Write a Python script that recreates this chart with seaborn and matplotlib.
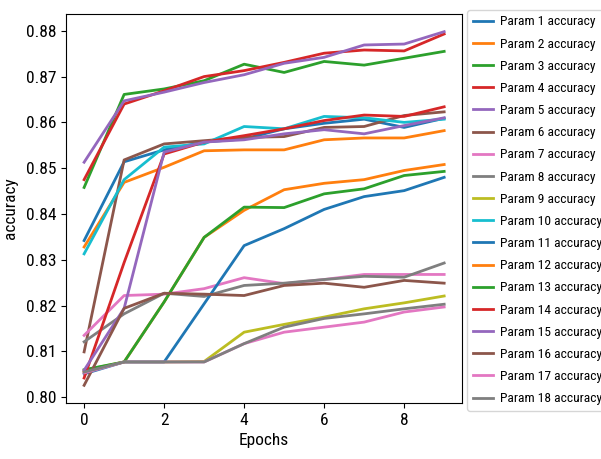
import matplotlib
matplotlib.use('Agg')
import matplotlib.pyplot as plt
from matplotlib import font_manager
import numpy as np
import pandas as pd
import seaborn as sns

epochs = list(range(10))

param1 = [0.8342, 0.8514, 0.8540, 0.8557, 0.8564, 0.8586, 0.8598, 0.8607, 0.8589, 0.8609]
param2 = [0.8328, 0.8469, 0.8502, 0.8538, 0.8540, 0.8540, 0.8562, 0.8566, 0.8566, 0.8582]
param3 = [0.8458, 0.8661, 0.8673, 0.8691, 0.8727, 0.8709, 0.8733, 0.8725, 0.8740, 0.8755]
param4 = [0.8475, 0.8640, 0.8669, 0.8700, 0.8713, 0.8731, 0.8751, 0.8758, 0.8756, 0.8793]
param5 = [0.8513, 0.8647, 0.8666, 0.8687, 0.8704, 0.8729, 0.8742, 0.8769, 0.8771, 0.8798]
param6 = [0.8099, 0.8518, 0.8553, 0.8560, 0.8567, 0.8569, 0.8589, 0.8591, 0.8615, 0.8623]
param7 = [0.8135, 0.8222, 0.8225, 0.8237, 0.8261, 0.8248, 0.8257, 0.8268, 0.8268, 0.8268]
param8 = [0.8121, 0.8182, 0.8227, 0.8220, 0.8244, 0.8249, 0.8257, 0.8264, 0.8262, 0.8293]
param9 = [0.8059, 0.8077, 0.8077, 0.8078, 0.8142, 0.8159, 0.8175, 0.8193, 0.8206, 0.8221]
param10 = [0.8313, 0.8475, 0.8546, 0.8553, 0.8591, 0.8586, 0.8613, 0.8610, 0.8600, 0.8607]
param11 = [0.8051, 0.8077, 0.8077, 0.8204, 0.8331, 0.8368, 0.8410, 0.8438, 0.8451, 0.8480]
param12 = [0.8055, 0.8077, 0.8208, 0.8349, 0.8408, 0.8453, 0.8467, 0.8475, 0.8495, 0.8508]
param13 = [0.8060, 0.8077, 0.8208, 0.8349, 0.8415, 0.8414, 0.8444, 0.8455, 0.8484, 0.8493]
param14 = [0.8042, 0.8294, 0.8531, 0.8557, 0.8571, 0.8586, 0.8604, 0.8616, 0.8613, 0.8634]
param15 = [0.8059, 0.8194, 0.8535, 0.8557, 0.8562, 0.8575, 0.8584, 0.8575, 0.8593, 0.8610]
param16 = [0.8026, 0.8194, 0.8227, 0.8225, 0.8222, 0.8244, 0.8249, 0.8240, 0.8255, 0.8249]
param17 = [0.8053, 0.8077, 0.8077, 0.8077, 0.8117, 0.8142, 0.8153, 0.8164, 0.8186, 0.8197]
param18 = [0.8055, 0.8077, 0.8077, 0.8077, 0.8117, 0.8153, 0.8172, 0.8182, 0.8193, 0.8203]

series = [param1, param2, param3, param4, param5, param6, param7, param8, param9,
          param10, param11, param12, param13, param14, param15, param16, param17, param18]
labels = ['Param %d accuracy' % (i + 1) for i in range(len(series))]

# the reference text is narrow; use a condensed face if one is installed
names = {f.name for f in font_manager.fontManager.ttflist}
narrow, stretch = None, 'normal'
for pref in ['Liberation Sans Narrow', 'Roboto Condensed', 'Open Sans Condensed',
             'Noto Sans Condensed', 'DejaVu Sans Condensed', 'Arimo Narrow']:
    if pref in names:
        narrow = pref
        break
if narrow is None:
    for f in font_manager.fontManager.ttflist:
        if str(f.stretch) in ('condensed', 'semi-condensed') and f.style == 'normal':
            narrow, stretch = f.name, str(f.stretch)
            break

if narrow is not None:
    plt.rcParams['font.family'] = [narrow, 'DejaVu Sans']
    plt.rcParams['font.stretch'] = stretch
    tick_fs, label_fs, leg_fs, leg_sp = 12.5, 12.5, 9.7, 0.68
else:
    plt.rcParams['font.family'] = ['DejaVu Sans']
    tick_fs, label_fs, leg_fs, leg_sp = 9.5, 10, 7.5, 0.95

rows = []
for lab, vals in zip(labels, series):
    for e, v in zip(epochs, vals):
        rows.append((e, v, lab))
df = pd.DataFrame(rows, columns=['Epochs', 'accuracy', 'param'])

fig = plt.figure(figsize=(6.01, 4.59), dpi=100)
ax = fig.add_axes([0.110, 0.122, 0.659, 0.8475])
sns.lineplot(data=df, x='Epochs', y='accuracy', hue='param', hue_order=labels,
             palette=sns.color_palette('tab10', 18), linewidth=2, ax=ax)

ax.set_xticks([0, 2, 4, 6, 8])
ax.set_yticks(np.arange(0.80, 0.881, 0.01))
ax.yaxis.set_major_formatter(matplotlib.ticker.FormatStrFormatter('%.2f'))
ax.tick_params(labelsize=tick_fs)
ax.set_xlabel('Epochs', fontsize=label_fs)
ax.set_ylabel('accuracy', fontsize=label_fs, labelpad=6)

sns.move_legend(ax, 'upper left', bbox_to_anchor=(1.013, 1.01), title=None,
                frameon=True, fontsize=leg_fs, handlelength=1.5, handletextpad=0.5,
                borderaxespad=0, labelspacing=leg_sp)

fig.savefig('out.png', dpi=100)
